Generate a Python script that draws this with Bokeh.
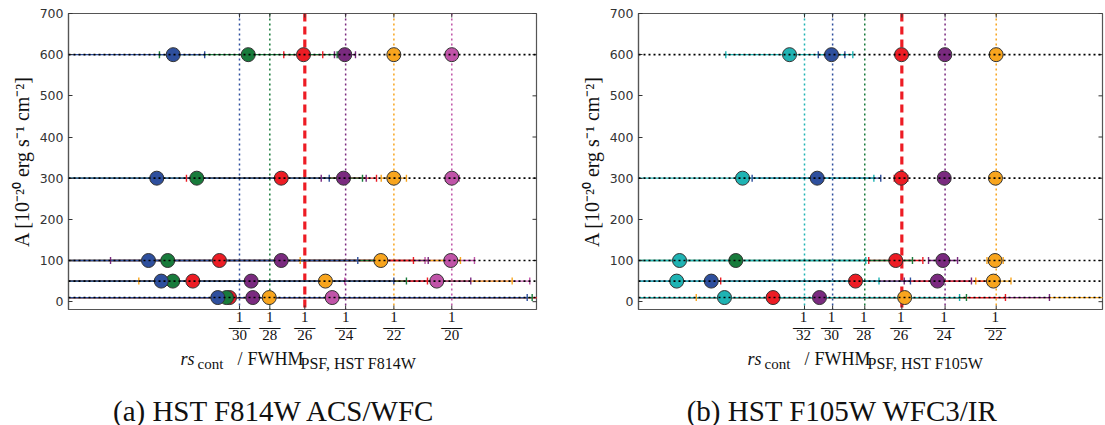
import math
from bokeh.plotting import figure
from bokeh.models import ColumnDataSource, Span, Label, LabelSet, FixedTicker, LinearAxis, Range1d
from bokeh.layouts import row, column
from bokeh.embed import file_html
from bokeh.resources import INLINE
from bokeh.core.properties import value

NA = float("nan")

# amplitude levels (y) shared by both panels
levels = [10, 50, 100, 300, 600]
y_ticks = [0, 100, 200, 300, 400, 500, 600, 700]

COLORS = {
    "cyan": "#1fb3b3",
    "blue": "#2e4f9d",
    "green": "#187b3b",
    "red": "#ed1c24",
    "purple": "#7a2a7f",
    "orange": "#f8a51e",
    "pink": "#c054a8",
}

# ---------------- panel (a): HST F814W ACS/WFC ----------------
f814_denoms = [30, 28, 26, 24, 22, 20]
f814_names = ["blue", "green", "red", "purple", "orange", "pink"]

f814_blue_x = [0.03163, 0.02719, 0.02619, 0.02684, 0.02813]
f814_blue_lo = [0.015, 0.015, 0.015, 0.015, 0.015]
f814_blue_hi = [0.05592, 0.04545, 0.04262, 0.04038, 0.03060]

f814_green_x = [0.03231, 0.02810, 0.02770, 0.02998, 0.03402]
f814_green_lo = [0.015, 0.015, 0.015, 0.015, 0.02705]
f814_green_hi = [0.05631, 0.04644, 0.04401, 0.04299, 0.04100]

f814_red_x = [0.03255, 0.02967, 0.03176, 0.03661, 0.03836]
f814_red_lo = [0.015, 0.015, 0.015, 0.02917, 0.03681]
f814_red_hi = [0.060, 0.04809, 0.04699, 0.04409, 0.03987]

f814_purple_x = [0.03438, 0.03425, 0.03661, 0.04150, 0.04160]
f814_purple_lo = [0.015, 0.015, 0.02321, 0.03975, 0.04079]
f814_purple_hi = [0.060, 0.05149, 0.04815, 0.04328, 0.04244]

f814_orange_x = [0.03567, 0.04008, 0.04443, 0.04545, 0.04545]
f814_orange_lo = [0.015, 0.02543, 0.03810, 0.04446, 0.04520]
f814_orange_hi = [0.060, 0.05474, 0.05068, 0.04644, 0.04570]

f814_pink_x = [0.04061, 0.04882, 0.04992, 0.05000, 0.05000]
f814_pink_lo = [0.015, 0.04160, 0.04790, 0.04951, 0.04975]
f814_pink_hi = [0.060, 0.05612, 0.05178, 0.05058, 0.05025]

# ---------------- panel (b): HST F105W WFC3/IR ----------------
f105_denoms = [32, 30, 28, 26, 24, 22]
f105_names = ["cyan", "blue", "green", "red", "purple", "orange"]

f105_cyan_x = [0.02532, 0.02178, 0.02199, 0.02666, 0.03014]
f105_cyan_lo = [0.015, 0.015, 0.015, 0.015, 0.02542]
f105_cyan_hi = [0.04274, 0.03677, 0.03579, 0.03639, 0.03483]

f105_blue_x = [NA, 0.02434, NA, 0.03219, 0.03325]
f105_blue_lo = [NA, 0.015, NA, 0.02737, 0.03227]
f105_blue_hi = [NA, 0.03910, NA, 0.03690, 0.03424]

f105_green_x = [0.0175, NA, 0.02616, NA, NA]
f105_green_lo = [0.015, NA, 0.015, NA, NA]
f105_green_hi = [0.04325, NA, 0.03925, NA, NA]

f105_red_x = [0.02892, 0.03503, 0.03801, 0.03841, 0.03844]
f105_red_lo = [0.015, 0.02504, 0.03601, 0.03790, 0.03830]
f105_red_hi = [0.04614, 0.04505, 0.04002, 0.03890, 0.03858]

f105_purple_x = [0.03236, 0.04110, 0.04150, 0.04160, 0.04165]
f105_purple_lo = [0.015, 0.03864, 0.04044, 0.04150, 0.04160]
f105_purple_hi = [0.04940, 0.04362, 0.04259, 0.04170, 0.04170]

f105_orange_x = [0.03867, 0.04525, 0.04537, 0.04540, 0.04545]
f105_orange_lo = [0.02323, 0.04394, 0.04477, 0.04530, 0.04540]
f105_orange_hi = [0.058, 0.04655, 0.04597, 0.04550, 0.04550]

true_denom = 26

F814 = {
    "blue": (f814_blue_x, f814_blue_lo, f814_blue_hi),
    "green": (f814_green_x, f814_green_lo, f814_green_hi),
    "red": (f814_red_x, f814_red_lo, f814_red_hi),
    "purple": (f814_purple_x, f814_purple_lo, f814_purple_hi),
    "orange": (f814_orange_x, f814_orange_lo, f814_orange_hi),
    "pink": (f814_pink_x, f814_pink_lo, f814_pink_hi),
}
F105 = {
    "cyan": (f105_cyan_x, f105_cyan_lo, f105_cyan_hi),
    "blue": (f105_blue_x, f105_blue_lo, f105_blue_hi),
    "green": (f105_green_x, f105_green_lo, f105_green_hi),
    "red": (f105_red_x, f105_red_lo, f105_red_hi),
    "purple": (f105_purple_x, f105_purple_lo, f105_purple_hi),
    "orange": (f105_orange_x, f105_orange_lo, f105_orange_hi),
}

SERIF = "Liberation Serif"
SPINE = "#555555"
TXT = "#111111"
TOP_H = 310      # height of the plotting panels
STRIP_H = 115    # height of the text strips below them


def build_source(series, names):
    d = dict(x=[], lo=[], hi=[], y=[], color=[])
    for name in reversed(names):
        xs, los, his = series[name]
        for lev, x, lo, hi in zip(levels, xs, los, his):
            if math.isnan(x):
                continue
            d["x"].append(x)
            d["lo"].append(lo)
            d["hi"].append(hi)
            d["y"].append(lev)
            d["color"].append(COLORS[name])
    return ColumnDataSource(d)


def panel(series, names, denoms, xr, frame_w, bl, br):
    y_lo, y_hi = -19, y_ticks[-1]
    p = figure(x_range=Range1d(*xr), y_range=Range1d(y_lo, y_hi),
               frame_width=frame_w, frame_height=296,
               min_border_left=bl, min_border_right=br, min_border_top=13,
               min_border_bottom=TOP_H - 13 - 296,
               x_axis_type=None, y_axis_type=None,
               output_backend="svg", toolbar_location=None)
    p.outline_line_color = SPINE
    p.outline_line_width = 1.2
    p.background_fill_color = "white"
    p.border_fill_color = "white"

    xt = [1.0 / d for d in denoms]

    yl = LinearAxis(ticker=FixedTicker(ticks=y_ticks),
                    axis_label="A [10\u207b\u00b2\u2070 erg s\u207b\u00b9 cm\u207b\u00b2]",
                    axis_label_text_font=SERIF, axis_label_text_font_size="20px",
                    axis_label_text_font_style="normal", axis_label_text_color=TXT,
                    axis_label_standoff=4,
                    major_label_text_font="DejaVu Sans", major_label_text_font_size="12.5px",
                    major_label_text_color="#333333", major_label_standoff=5,
                    major_tick_in=4, major_tick_out=0, minor_tick_in=0, minor_tick_out=0,
                    axis_line_color=SPINE, axis_line_width=1.2, major_tick_line_color="#333333")
    p.add_layout(yl, "left")

    # inward ticks on the bottom, top and right spines (half of each dash is clipped by the frame)
    p.scatter(x=xt, y=[y_lo] * len(xt), marker="dash", angle=math.pi / 2, size=8,
              line_color="#333333", line_width=1)
    p.scatter(x=xt, y=[y_hi] * len(xt), marker="dash", angle=math.pi / 2, size=8,
              line_color="#333333", line_width=1)
    p.scatter(x=[xr[1]] * len(y_ticks), y=y_ticks, marker="dash", size=8,
              line_color="#333333", line_width=1)

    # vertical reference lines at the true values
    for d, name in zip(denoms, names):
        if d == true_denom:
            continue
        p.add_layout(Span(location=1.0 / d, dimension="height", line_color=COLORS[name],
                          line_width=1.5, line_dash="2 3", level="underlay"))
    p.add_layout(Span(location=1.0 / true_denom, dimension="height", line_color=COLORS["red"],
                      line_width=3.2, line_dash="8 5", level="underlay"))

    src = build_source(series, names)
    p.segment(x0="lo", y0="y", x1="hi", y1="y", source=src, line_color="color", line_width=1.3)
    p.scatter(x="lo", y="y", source=src, marker="dash", angle=math.pi / 2, size=7,
              line_color="color", line_width=1.4)
    p.scatter(x="hi", y="y", source=src, marker="dash", angle=math.pi / 2, size=7,
              line_color="color", line_width=1.4)
    p.scatter(x="x", y="y", source=src, marker="circle", size=14,
              fill_color="color", line_color="#333333", line_width=1)

    for lev in levels:
        p.add_layout(Span(location=lev, dimension="width", line_color="black",
                          line_width=1.6, line_dash="2 3", level="annotation"))
    return p


def text_strip(p, denoms, bl, br, x0, filt, caption, cap_x):
    """Strip under a panel (same x scale) with the fraction tick labels,
    the x-axis label and the sub-figure caption."""
    q = figure(width=p.frame_width + bl + br, height=STRIP_H,
               x_range=p.x_range, y_range=Range1d(0, STRIP_H),
               x_axis_type=None, y_axis_type=None,
               min_border_left=bl, min_border_right=br, min_border_top=0, min_border_bottom=0,
               output_backend="svg", toolbar_location=None)
    q.outline_line_color = None
    q.background_fill_color = "white"
    q.border_fill_color = "white"

    tick_src = ColumnDataSource(dict(
        x=[1.0 / d for d in denoms],
        num=["1"] * len(denoms),
        bar=["\u2500\u2500"] * len(denoms),
        den=[str(d) for d in denoms],
    ))
    common = dict(x="x", source=tick_src, y_units="screen", text_align="center",
                  text_font=value(SERIF), text_font_size=value("15px"), text_color=TXT)
    q.add_layout(LabelSet(y=104, text="num", text_baseline="alphabetic", **common))
    q.add_layout(LabelSet(y=98, text="bar", text_baseline="middle", **common))
    q.add_layout(LabelSet(y=86, text="den", text_baseline="alphabetic", **common))

    def lab(x, y, text, size, style="normal", align="left"):
        q.add_layout(Label(x=x, y=y, x_units="screen", y_units="screen", text=text,
                           text_font=SERIF, text_font_size=size, text_font_style=style,
                           text_baseline="alphabetic", text_align=align, text_color=TXT))

    # rs_cont / FWHM_{PSF, HST filt}
    lab(x0, 67, "rs", "18px", "italic")
    lab(x0 + 17, 62, "cont", "15px")
    lab(x0 + 57, 67, "/", "18px")
    lab(x0 + 67, 67, "FWHM", "18px")
    lab(x0 + 120, 62, "PSF, HST " + filt, "16px")
    # caption
    lab(cap_x, 15, caption, "29px", "normal", "center")
    return q


p1 = panel(F814, f814_names, f814_denoms, (0.01991, 0.05665), 468, 68, 41)
p2 = panel(F105, f105_names, f105_denoms, (0.01895, 0.05333), 464, 60, 2)

q1 = text_strip(p1, f814_denoms, 68, 41, 112, "F814W", "(a) HST F814W ACS/WFC", 206)
q2 = text_strip(p2, f105_denoms, 60, 2, 110, "F105W", "(b) HST F105W WFC3/IR", 205)

layout = column(row(p1, p2), row(q1, q2))
open("out.html", "w").write(file_html(layout, INLINE))
